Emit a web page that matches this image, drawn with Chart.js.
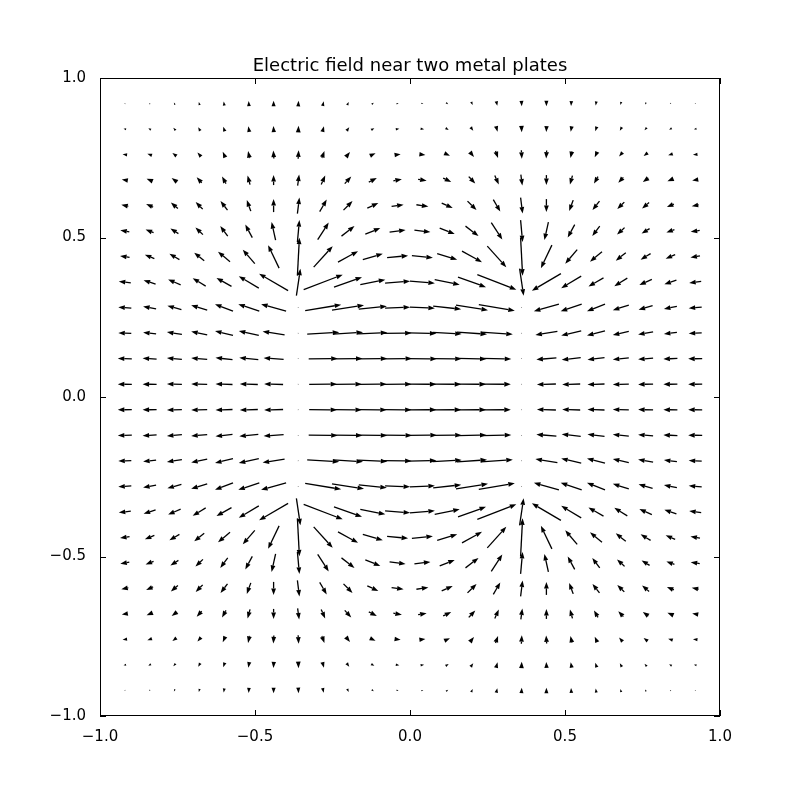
<!DOCTYPE html>
<html><head><meta charset="utf-8">
<script src="https://cdn.jsdelivr.net/npm/chart.js@4"></script>
<style>html,body{margin:0;padding:0;background:#fff}#wrap{width:800px;height:796px}</style>
</head><body><div id="wrap"><canvas id="c" width="800" height="796"></canvas></div>
<script>
// Grid coordinates (24 x 24)
const xs = [-0.92,-0.84,-0.76,-0.68,-0.60,-0.52,-0.44,-0.36,-0.28,-0.20,-0.12,-0.04,0.04,0.12,0.20,0.28,0.36,0.44,0.52,0.60,0.68,0.76,0.84,0.92];
const ys = [0.92,0.84,0.76,0.68,0.60,0.52,0.44,0.36,0.28,0.20,0.12,0.04,-0.04,-0.12,-0.20,-0.28,-0.36,-0.44,-0.52,-0.60,-0.68,-0.76,-0.84,-0.92];
const xTicks = [-1.0,-0.5,0.0,0.5,1.0];
const yTicks = [-1.0,-0.5,0.0,0.5,1.0];
// Field read from the upper-left quadrant (rows y=0.92..0.04, cols x=-0.92..-0.04);
// the picture is mirror-symmetric: u even in x and y, v odd in x and y.
const U = [
[-1,-1,-1,-0.8,-0.6,-0.3,0,0.3,1,1.5,2,2],
[-2.5,-2.5,-2.2,-2,-1.5,-1,-0.3,0.3,1.5,2.5,3,3.5],
[-4.5,-4.5,-4,-3.5,-2.5,-1.5,-0.5,0.5,2.5,4,5.5,6],
[-6,-6,-5.5,-5,-4,-2.5,0,1.5,4,6.5,8,8.5],
[-7,-7,-7,-7,-7,-4,0,2,7,9,11,12],
[-9,-8,-8,-7.5,-7.5,-7,-4,2,11,13,15,16],
[-9.5,-9.5,-10,-10,-12,-12,-11,2,19,20,20,21],
[-12,-12,-12.5,-13,-15,-20,-29,4,39,28,25,25],
[-13,-13,-14,-16,-18,-21,-25,1,36,32,28,25],
[-13,-13,-15,-16,-18,-20,-22,1,32,30,29,28],
[-14,-14,-15,-16,-17,-19,-20,1,29,29,29,29],
[-14,-14,-15,-16,-17,-18,-19,1,28,28,28,28]
];
const V = [
[0.5,1,2,3,4,5,5.5,5.5,4.5,3,1.5,0.3],
[0.5,1.5,2.5,3.5,4.5,5.5,6,6.5,5.5,3.5,1.8,0.5],
[0.5,1.5,3,4,5.5,7,8,8.5,7,5,2.5,0.8],
[1,2.5,4,5.5,7,9,10,11,9,7,4,1.5],
[1.5,3,6,7,9,11,13,16,12,9,5,1.7],
[1.5,3,5,7,10,13,18,22,17,10,6,2],
[1.5,4,6,8,10,14,23,38,21,11,6,2],
[1.5,4,5.5,8,8.5,12,17,27,15,10,5,2],
[1,2.5,4,5,7,7,7,0,6,5,3,1],
[0.5,1.5,2.5,3.5,4.5,4.5,3.5,0,2,2,1.5,0.5],
[0.3,0.8,1.2,1.5,2,2,1.5,0,0.5,0.5,0.3,0.2],
[0.1,0.2,0.3,0.4,0.5,0.5,0.5,0,0.1,0.1,0.1,0.1]
];

const points = [];
ys.forEach((y,j)=>{ xs.forEach((x,k)=>{
  const qj = j<12?j:23-j, qk = k<12?k:23-k;
  const s = (j<12?1:-1)*(k<12?1:-1);
  points.push({x:x,y:y,u:U[qj][qk],v:V[qj][qk]*s});
});});

const fmt = v => (Math.abs(v)<1e-9?0:v).toFixed(1).replace('-','\u2212');

const quiver = {
  id:'quiver',
  afterDatasetsDraw(chart){
    const ctx=chart.ctx, xS=chart.scales.x, yS=chart.scales.y, a=chart.chartArea;
    const pxPerX = (xS.getPixelForValue(1)-xS.getPixelForValue(0));
    const pxPerY = (yS.getPixelForValue(0)-yS.getPixelForValue(1));
    ctx.save();
    ctx.beginPath(); ctx.rect(a.left,a.top,a.right-a.left,a.bottom-a.top); ctx.clip();
    ctx.fillStyle='#000'; ctx.strokeStyle='#000';
    points.forEach(p=>{
      const dxd = p.u/pxPerX, dyd = p.v/pxPerY;
      const x0=xS.getPixelForValue(p.x-dxd/2), y0=yS.getPixelForValue(p.y-dyd/2);
      const x1=xS.getPixelForValue(p.x+dxd/2), y1=yS.getPixelForValue(p.y+dyd/2);
      const L=Math.hypot(x1-x0,y1-y0); if(L<0.3) return;
      const ux=(x1-x0)/L, uy=(y1-y0)/L;
      const hl=Math.min(6.5,L), hw=Math.min(2.4, L*0.37);
      const bx=x1-ux*hl, by=y1-uy*hl;
      if(L>hl){ ctx.lineWidth=1.3; ctx.beginPath(); ctx.moveTo(x0,y0); ctx.lineTo(bx,by); ctx.stroke(); }
      ctx.beginPath(); ctx.moveTo(x1,y1);
      ctx.lineTo(bx-uy*hw,by+ux*hw); ctx.lineTo(bx+uy*hw,by-ux*hw); ctx.closePath(); ctx.fill();
    });
    ctx.restore();
    // frame and inward ticks
    ctx.save(); ctx.strokeStyle='#000'; ctx.lineWidth=1;
    ctx.strokeRect(a.left+0.5,a.top+0.5,a.right-a.left-1,a.bottom-a.top-1);
    ctx.beginPath();
    xTicks.forEach(t=>{const x=Math.round(xS.getPixelForValue(t))+0.5; ctx.moveTo(x,a.bottom); ctx.lineTo(x,a.bottom-6); ctx.moveTo(x,a.top); ctx.lineTo(x,a.top+6);});
    yTicks.forEach(t=>{const y=Math.round(yS.getPixelForValue(t))+0.5; ctx.moveTo(a.left,y); ctx.lineTo(a.left+6,y); ctx.moveTo(a.right,y); ctx.lineTo(a.right-6,y);});
    ctx.stroke();
    ctx.fillStyle='#000'; ctx.font='18px "DejaVu Sans"'; ctx.textAlign='center'; ctx.textBaseline='alphabetic';
    ctx.fillText('Electric field near two metal plates',(a.left+a.right)/2,a.top-7);
    ctx.restore();
  }
};

new Chart(document.getElementById('c'),{
  type:'scatter',
  data:{datasets:[{data:points,pointRadius:0,showLine:false}]},
  options:{
    responsive:false,animation:false,
    layout:{padding:{left:30,right:80,top:78,bottom:40}},
    plugins:{legend:{display:false},tooltip:{enabled:false}},
    scales:{
      x:{type:'linear',min:-1,max:1,afterFit(s){s.height=40;},
         grid:{display:false},border:{display:false},
         afterBuildTicks(s){s.ticks=xTicks.map(v=>({value:v}));},
         ticks:{color:'#000',font:{family:'DejaVu Sans',size:15},padding:4,callback:fmt,maxRotation:0}},
      y:{type:'linear',min:-1,max:1,afterFit(s){s.width=70;},
         grid:{display:false},border:{display:false},
         afterBuildTicks(s){s.ticks=yTicks.map(v=>({value:v}));},
         ticks:{color:'#000',font:{family:'DejaVu Sans',size:15},padding:6,callback:fmt}}
    }
  },
  plugins:[quiver]
});
</script></body></html>
